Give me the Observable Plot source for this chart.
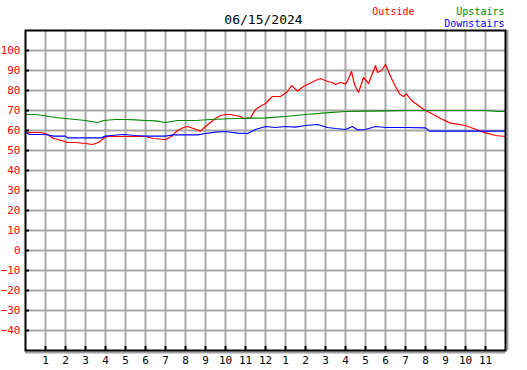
<!DOCTYPE html>
<html><head><meta charset="utf-8">
<script src="https://cdn.jsdelivr.net/npm/d3@7"></script>
<script src="https://cdn.jsdelivr.net/npm/@observablehq/plot@0.6"></script>
<style>body{margin:0;background:#fff} svg{display:block}</style>
</head><body><div id="chart"></div>
<script>
const title = "06/15/2024";
const seriesNames = ["Outside", "Upstairs", "Downstairs"];
const seriesColors = ["#ff0000", "#008800", "#0000ff"];

const outsideHours = [0,0.8,1.1,1.4,1.8,2.1,2.5,3.0,3.35,3.65,3.9,4.1,4.3,5.0,5.5,6.0,6.4,7.0,7.3,7.6,7.9,8.1,8.4,8.75,9.0,9.25,9.5,9.75,10.0,10.25,10.5,10.75,10.9,11.25,11.5,11.8,12.0,12.35,12.75,13.1,13.3,13.6,13.9,14.2,14.5,14.75,15.1,15.35,15.5,15.75,16.0,16.1,16.3,16.45,16.65,16.9,17.15,17.5,17.6,17.8,18.0,18.3,18.5,18.7,18.9,19.05,19.3,19.75,20.0,20.5,20.75,21.25,22.0,22.4,22.9,23.5,24];
const outsideTemps = [59,59,58,56,55,54,54,53.5,53,54,56,57,57,57,57,57,56,55.5,57,60,61.5,62,61,59.7,62,64,66,67.5,68,68,67.5,67,66,66.3,70.5,72.5,73.5,77,77,79.5,82.5,79.7,82,83.5,85,86,84.5,84,83,84,83.3,84.7,89.5,83,79,86.5,83.5,92.5,89,90,93,86,82,78.3,77,78.3,75,71.7,70,67.5,66,63.7,62.5,61,59.2,57.5,57];

const upstairsHours = [0,0.5,0.9,1.2,1.5,2.0,2.5,3.0,3.3,3.6,3.9,4.5,5.0,5.5,6.0,6.5,7.0,7.3,7.6,8.5,9.25,10.5,12.0,13.0,14.0,15.0,16.0,17.0,18.0,19.0,20.0,21.0,22.0,23.0,23.6,24];
const upstairsTemps = [68,68,67.5,67,66.5,66,65.5,65,64.5,64,65,65.5,65.5,65.3,65,64.8,64,64.5,65,65,65.5,66,66.3,67,68,68.8,69.5,69.7,69.8,70,70,70,70,70,69.5,69.5];

const downstairsHours = [0,0.2,1.0,1.4,2.0,2.1,3.8,4.0,4.3,4.9,5.5,6.0,7.0,7.4,8.6,9.0,9.5,10.0,10.6,11.1,11.5,12.0,12.5,13.0,13.5,14.0,14.6,15.1,15.5,16.0,16.35,16.6,17.0,17.5,18.0,19.0,20.0,20.2,24];
const downstairsTemps = [59,58,58,57.2,57.2,56.3,56.3,57.2,57.5,58,57.5,57.2,57.2,57.8,57.8,58.5,59.2,59.5,58.7,58.5,60.5,62,61.5,62,61.7,62.5,63,61.5,61,60.5,62,60.3,60.5,62,61.5,61.5,61.3,59.7,59.7];

const yTicks = [-40,-30,-20,-10,0,10,20,30,40,50,60,70,80,90,100];
const xTickHours = [1,2,3,4,5,6,7,8,9,10,11,12,13,14,15,16,17,18,19,20,21,22,23];
const xTickLabels = ["1","2","3","4","5","6","7","8","9","10","11","12","1","2","3","4","5","6","7","8","9","10","11"];

const rows = [
  ...outsideHours.map((h, i) => ({series: seriesNames[0], hour: h, temp: outsideTemps[i]})),
  ...upstairsHours.map((h, i) => ({series: seriesNames[1], hour: h, temp: upstairsTemps[i]})),
  ...downstairsHours.map((h, i) => ({series: seriesNames[2], hour: h, temp: downstairsTemps[i]}))
];

const gridColor = "#a8a8a8";
const font = "'DejaVu Sans Mono', monospace";

const chart = Plot.plot({
  width: 527,
  height: 370,
  marginLeft: 25,
  marginRight: 22,
  marginTop: 30,
  marginBottom: 20,
  style: {fontFamily: font, fontSize: "10px", background: "white", color: "black"},
  x: {domain: [0, 24]},
  y: {domain: [-50, 110]},
  color: {domain: seriesNames, range: seriesColors},
  marks: [
    Plot.gridY(yTicks, {stroke: gridColor, strokeOpacity: 1, strokeWidth: 2}),
    Plot.gridX(xTickHours, {stroke: gridColor, strokeOpacity: 1, strokeWidth: 2}),
    Plot.line(rows, {x: "hour", y: "temp", z: "series", stroke: "series", strokeWidth: 1.2}),
    Plot.ruleX([24], {dx: 2, stroke: "#a0a0a0", strokeWidth: 2}),
    Plot.ruleY([-50], {dy: 2, stroke: "#a0a0a0", strokeWidth: 2}),
    Plot.frame({stroke: "black", strokeWidth: 2}),
    Plot.axisY(yTicks, {label: null, tickSize: -4, tickPadding: 9, stroke: "black", fill: "red", strokeWidth: 2, fontSize: 11}),
    Plot.axisX(xTickHours, {label: null, tickSize: -4, tickPadding: 10, stroke: "black", fill: "black", strokeWidth: 2, fontSize: 11,
      tickFormat: (d) => xTickLabels[xTickHours.indexOf(d)]}),
    Plot.text([title], {text: (d) => d, frameAnchor: "top", lineAnchor: "middle", dx: -2, dy: -11, fontSize: 13, fill: "black"}),
    Plot.text([seriesNames[0]], {text: (d) => d, frameAnchor: "top-right", lineAnchor: "middle", textAnchor: "end", dx: -91, dy: -19, fontSize: 10, fill: seriesColors[0]}),
    Plot.text([seriesNames[1]], {text: (d) => d, frameAnchor: "top-right", lineAnchor: "middle", textAnchor: "end", dx: -1, dy: -19, fontSize: 10, fill: seriesColors[1]}),
    Plot.text([seriesNames[2]], {text: (d) => d, frameAnchor: "top-right", lineAnchor: "middle", textAnchor: "end", dx: -1, dy: -7, fontSize: 10, fill: seriesColors[2]})
  ]
});
document.getElementById("chart").appendChild(chart);
</script>
</body></html>
